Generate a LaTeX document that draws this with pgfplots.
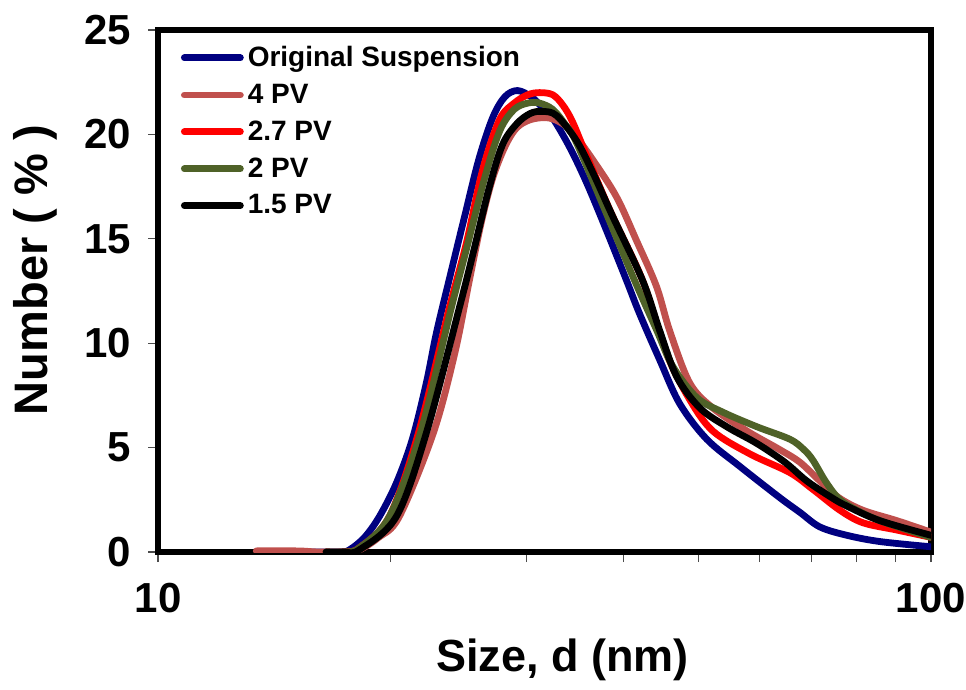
\documentclass[border=0pt]{standalone}
\usepackage{pgfplots}
\pgfplotsset{compat=1.18}
\usepackage{fontspec}
\setmainfont{Liberation Sans}
\definecolor{cNavy}{RGB}{0,0,128}
\definecolor{cBrown}{RGB}{192,80,77}
\definecolor{cRed}{RGB}{255,0,0}
\definecolor{cGreen}{RGB}{79,98,40}
\begin{document}
\begin{tikzpicture}
\begin{axis}[
  scale only axis,
  width=386.5pt, height=261pt,
  xmode=log, xmin=10, xmax=100, ymin=0, ymax=25,
  log basis x=10,
  xtick={10,100}, xticklabels={10,100},
  minor xtick={20,30,40,50,60,70,80,90},
  ytick={0,5,...,25},
  tick align=outside, tick pos=left,
  major tick length=5pt, minor tick length=5pt,
  every tick/.style={black!70, line width=0.6pt},
  axis line style={line width=3pt},
  /pgf/number format/assume math mode=true,
  tick label style={font=\fontsize{21}{24}\selectfont\bfseries},
  xticklabel style={yshift=-7pt},
  yticklabel style={xshift=-5pt},
  xlabel={Size, d (nm)}, ylabel={Number ( \% )},
  xlabel style={font=\fontsize{22.5}{26}\selectfont\bfseries, at={(axis description cs:0.523,-0.207)}, anchor=center},
  ylabel style={font=\fontsize{23.5}{26}\selectfont\bfseries, at={(axis description cs:-0.159,0.54)}, anchor=center},
  legend style={at={(0.024,0.985)}, anchor=north west, draw=none, fill=none,
    font=\fontsize{14}{16}\selectfont\bfseries, row sep=3.2pt, inner sep=2pt},
  legend cell align=left,
  legend image code/.code={\draw[#1] (0pt,0pt) -- (28pt,0pt);},
  every axis plot/.append style={line width=3.4pt, smooth, tension=0.55, line cap=round},
]
\addplot[cNavy] coordinates {
(15.1,0) (17.16,0) (17.68,0.1) (18.5,0.7) (19.34,1.7) (20.34,3.3) (21.33,5.4) (22.24,8.1) (22.92,10.5)
(23.9,13.3) (24.9,16.0) (26.0,18.8) (27.1,20.8) (28.1,21.8) (29.17,22.1) (30.4,21.8) (31.4,21.3)
(32.38,20.8) (34.07,19.4)
(35.84,17.7) (38.04,15.4) (40.38,13.0) (41.99,11.4) (44.57,9.2) (47.31,7.1) (51.28,5.4)
(56.58,4.1) (63.75,2.6) (67.67,1.9) (71.83,1.2) (77.84,0.8) (85.89,0.5) (100,0.25)};
\addlegendentry{Original Suspension}
\addplot[cBrown] coordinates {
(13.4,0.05) (13.7,0.06) (15.23,0.05) (16.1,0) (17.4,0) (18.21,0.1) (19.3,0.7) (20.52,1.7) (22.71,5.7)
(24.2,9.5) (25.28,13.0) (26.2,15.8) (27.1,17.9) (28.1,19.4) (29.08,20.3) (30.3,20.7) (31.8,20.8) (33.07,20.6) (34.38,20.1)
(36.49,18.8) (39.20,17.0) (41.61,14.9) (44.16,12.7) (45.91,10.6) (48.73,8.1) (52.19,6.9)
(57.77,5.8) (63.75,4.9) (67.67,4.3) (71.83,3.4) (76.0,2.6) (81.65,2.0) (90.36,1.5) (100,0.95)};
\addlegendentry{4 PV}
\addplot[cRed] coordinates {
(16.5,0) (17.4,0) (18.21,0.2) (19.92,1.7) (21.72,5.7) (23.82,11.7) (25.06,14.8) (26.3,18.3)
(27.65,20.7) (28.9,21.5) (30.1,21.9) (31.15,22.0) (32.4,21.9) (33.4,21.4) (34.38,20.6) (35.84,19.0) (38.61,16.2)
(42.36,13.0) (45.5,9.5) (48.73,7.3) (52.19,5.8) (58.29,4.7) (65.69,3.8) (70.34,3.0)
(76.24,2.0) (81.65,1.4) (90.36,1.05) (100,0.7)};
\addlegendentry{2.7 PV}
\addplot[cGreen] coordinates {
(16.5,0) (17.4,0) (18.21,0.2) (19.92,1.7) (21.85,5.7) (23.96,11.7) (25.1,14.6) (26.5,18.0)
(27.7,20.2) (28.9,21.2) (30.1,21.5) (31.15,21.5) (32.4,21.2) (33.6,20.5) (34.79,19.6) (38.04,16.2) (41.36,13.0)
(44.2,10.6) (46.32,8.9) (49.76,7.4) (53.77,6.7) (59.52,6.0) (65.69,5.4) (68.5,4.9)
(70.34,4.4) (73.0,3.4) (75.78,2.6) (79.25,2.1) (85.89,1.5) (100,0.7)};
\addlegendentry{2 PV}
\addplot[black] coordinates {
(16.5,0) (17.4,0) (18.21,0.1) (20.34,1.7) (22.24,5.7) (24.54,11.7) (25.6,14.4) (26.8,17.4) (27.9,19.5)
(29.1,20.5) (30.3,21.0) (31.43,21.1) (32.78,20.9) (34.79,19.7) (36.49,18.2) (38.61,16.2) (42.36,13.0)
(44.57,10.6) (46.88,8.4) (50.22,6.9) (54.42,6.0) (59.52,5.2) (64.7,4.3) (69.09,3.4)
(74.43,2.6) (77.84,2.2) (85.89,1.5) (100,0.8)};
\addlegendentry{1.5 PV}
\end{axis}
\pgfresetboundingbox
\path[use as bounding box] ([xshift=-79pt,yshift=-68.5pt]current axis.south west) rectangle ([xshift=17.5pt,yshift=15pt]current axis.north east);
\end{tikzpicture}
\end{document}
